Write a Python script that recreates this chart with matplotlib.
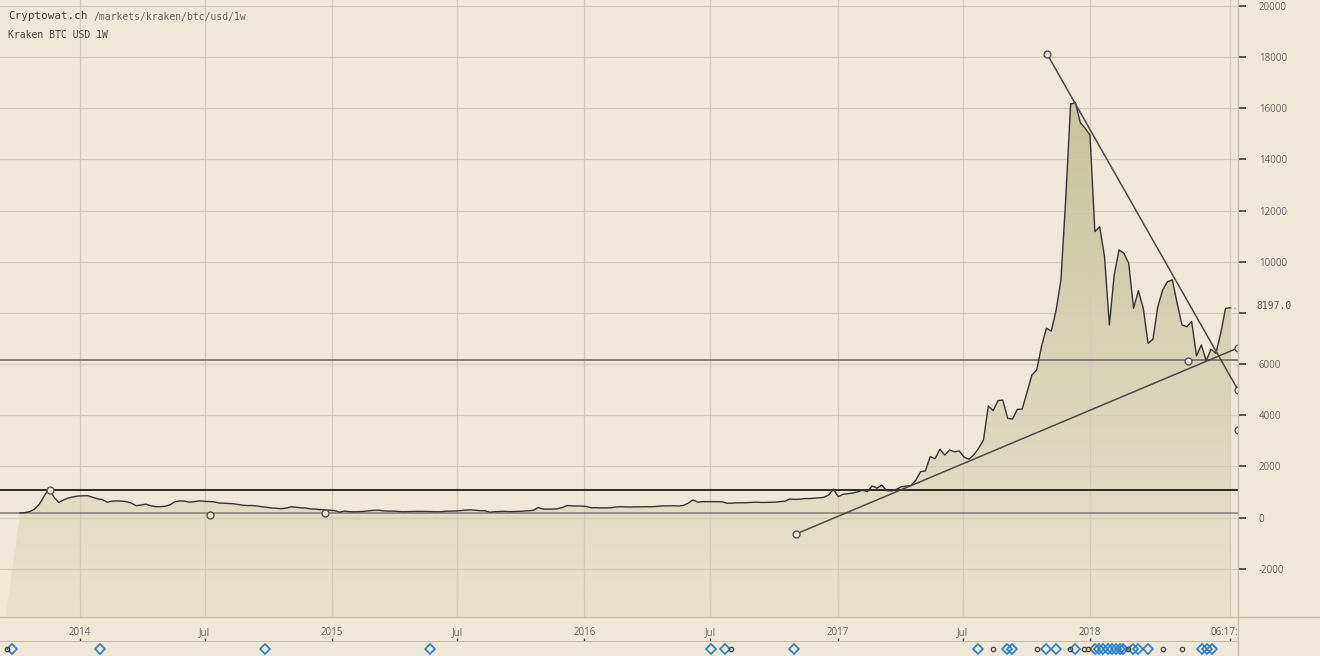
import numpy as np
import pandas as pd
import matplotlib
matplotlib.use("Agg")
import matplotlib.pyplot as plt
import matplotlib.dates as mdates
from matplotlib.colors import LinearSegmentedColormap
from matplotlib.patches import Polygon
from matplotlib.lines import Line2D
from matplotlib.transforms import Bbox, TransformedBbox

# weekly prices (USD), week starting monday
first_week = "2013-10-07"
close_2013 = [180, 190, 230, 330, 520, 850, 1130, 800, 590, 690, 760, 810, 840]
close_2014 = [850, 850, 790, 730, 700, 600, 640, 650, 640, 620, 560, 460, 490,
              520, 460, 425, 425, 440, 500, 620, 650, 640, 600, 620, 650, 635,
              625, 615, 570, 560, 550, 540, 510, 480, 465, 470, 450, 420, 400,
              370, 360, 345, 370, 420, 400, 380, 370, 335, 330, 310, 300, 280]
close_2015 = [270, 210, 250, 230, 225, 230, 240, 260, 280, 290, 260, 250, 250,
              240, 225, 230, 235, 240, 240, 237, 232, 225, 230, 245, 250, 255,
              270, 290, 300, 285, 265, 265, 210, 225, 235, 240, 230, 235, 240,
              250, 265, 280, 390, 330, 330, 330, 340, 390, 470, 455, 450, 450]
close_2016 = [430, 380, 385, 375, 375, 380, 410, 420, 415, 410, 415, 415, 420,
              420, 425, 445, 455, 455, 460, 450, 470, 560, 690, 600, 620, 620,
              620, 620, 615, 560, 560, 575, 575, 580, 590, 600, 590, 590, 595,
              600, 620, 640, 720, 710, 715, 740, 740, 755, 770, 790, 880, 1110]
close_2017 = [815, 910, 930, 960, 1000, 1070, 1010, 1230, 1150, 1270, 1050, 1040,
              1100, 1200, 1230, 1250, 1450, 1790, 1820, 2380, 2300, 2670, 2440,
              2640, 2570, 2600, 2360, 2280, 2450, 2710, 3030, 4360, 4180, 4570,
              4590, 3880, 3850, 4230, 4240, 4900, 5570, 5770, 6700, 7400, 7290,
              8100, 9300, 12500, 16170, 16220, 15440, 15220]
close_2018 = [14950, 11180, 11370, 10200, 7530, 9480, 10460, 10330, 9940, 8180,
              8870, 8180, 6810, 6970, 8240, 8890, 9220, 9290, 8380, 7530, 7460,
              7660, 6320, 6750, 6130, 6580, 6420, 7200, 8180, 8197]

# drawn trend lines and horizontal levels
trend_down_dates = ["2017-10-31", "2018-08-03"]
trend_down_vals = [18120, 4990]
trend_up_dates = ["2016-11-02", "2018-08-03"]
trend_up_vals = [-645, 6630]
level_vals = [1075, 188, 6140]
level_colors = ["#1a1a1a", "#8c8a80", "#77756d"]
anchor_dates = ["2013-11-19", "2014-07-09", "2014-12-22", "2018-05-22", "2018-08-03"]
anchor_vals = [1075, 86, 176, 6120, 3420]

# event markers in the bottom strip
blue_events = ["2013-09-25", "2014-01-30", "2014-09-26", "2015-05-23", "2016-07-02",
               "2016-07-22", "2016-10-30", "2017-07-23", "2017-09-03", "2017-09-10",
               "2017-10-29", "2017-11-13", "2017-12-10", "2018-01-08", "2018-01-14",
               "2018-01-20", "2018-01-27", "2018-02-02", "2018-02-08", "2018-02-13",
               "2018-02-18", "2018-03-04", "2018-03-11", "2018-03-26", "2018-06-12",
               "2018-06-19", "2018-06-26"]
dark_events = ["2013-09-18", "2016-07-31", "2017-08-14", "2017-10-16", "2017-12-03",
               "2017-12-23", "2017-12-29", "2018-02-25", "2018-04-17", "2018-05-14"]

tick_dates = ["2014-01-01", "2014-07-01", "2015-01-01", "2015-07-01", "2016-01-01",
              "2016-07-01", "2017-01-01", "2017-07-01", "2018-01-01", "2018-07-22"]
tick_labels = ["2014", "Jul", "2015", "Jul", "2016", "Jul", "2017", "Jul", "2018", "06:17:46"]
y_ticks = list(range(-2000, 20001, 2000))

BG = "#efe8d6"
GRID = "#d3cbb7"
SPINE = "#c6bea9"
W, H = 1320, 656

closes = close_2013 + close_2014 + close_2015 + close_2016 + close_2017 + close_2018
weeks = pd.date_range(first_week, periods=len(closes), freq="7D")
xs = mdates.date2num(weeks)

plt.rcParams["font.family"] = ["Open Sans", "DejaVu Sans"]

fig = plt.figure(figsize=(W / 100, H / 100), dpi=100, facecolor=BG)
ax = fig.add_axes([0, 39 / H, 1238 / W, 617 / H])
ax.set_facecolor(BG)

xmin = mdates.date2num(pd.Timestamp("2013-09-08"))
xmax = mdates.date2num(pd.Timestamp("2018-08-03"))
ymin, ymax = -3890, 20234

# gradient fill under the price line
cmap = LinearSegmentedColormap.from_list("fill", ["#e8e2cc", "#c0be94"])
grad = np.linspace(0, 1, 256).reshape(-1, 1)
im = ax.imshow(grad, cmap=cmap, extent=[xmin, xmax, ymin, ymax], origin="lower",
               aspect="auto", zorder=1)
verts = [(xs[0] - 21, ymin)] + list(zip(xs, closes)) + [(xs[-1], ymin)]
poly = Polygon(verts, closed=True, facecolor="none", edgecolor="none")
ax.add_patch(poly)
im.set_clip_path(poly)

ax.plot(xs, closes, color="#333333", lw=1.0, zorder=4)
ax.plot([xs[-1], xmax], [closes[-1], closes[-1]], ls=":", color="#a09c90", lw=1, zorder=4)

for v, c in zip(level_vals, level_colors):
    ax.axhline(v, color=c, lw=1.3, zorder=3)

for d, v in [(trend_down_dates, trend_down_vals), (trend_up_dates, trend_up_vals)]:
    ax.plot(pd.to_datetime(d), v, color="#4a4a48", lw=1.1, marker="o", ms=5,
            mfc=BG, mec="#555555", mew=1, zorder=5)
ax.plot(pd.to_datetime(anchor_dates), anchor_vals, ls="none", marker="o", ms=5,
        mfc=BG, mec="#555555", mew=1, zorder=6)

ax.set_xlim(xmin, xmax)
ax.set_ylim(ymin, ymax)
ax.set_axisbelow(False)
ax.grid(True, color=GRID, lw=0.9)

ax.set_xticks(mdates.date2num(pd.to_datetime(tick_dates)))
ax.set_xticklabels(tick_labels)
ax.set_yticks(y_ticks)
ax.set_yticklabels(["" if t == 8000 else str(t) for t in y_ticks])
ax.yaxis.tick_right()
ax.tick_params(axis="y", direction="out", length=6, width=1.2, color="#3a3a3a",
               pad=9, labelsize=7, labelcolor="#666666")
ax.tick_params(axis="x", length=0, pad=7, labelsize=7, labelcolor="#666666")
for s in ["left", "top"]:
    ax.spines[s].set_visible(False)
for s in ["right", "bottom"]:
    ax.spines[s].set_color(SPINE)

# last tick label is cut at the right edge of the plot
clip = TransformedBbox(Bbox([[0, 0], [1238 / W, 1]]), fig.transFigure)
last_lab = ax.get_xticklabels()[-1]
last_lab.set_clip_box(clip)
last_lab.set_clip_on(True)

ax.annotate(f"{closes[-1]:.1f}", xy=(1, closes[-1]), xycoords=("axes fraction", "data"),
            xytext=(13, 1), textcoords="offset points", ha="left", va="center",
            family="DejaVu Sans Mono", fontsize=7, color="#555555")

# event strip
ax2 = fig.add_axes([0, 0, 1238 / W, 15 / H], facecolor=BG)
ax2.set_xlim(xmin, xmax)
ax2.set_ylim(0, 1)
ax2.plot(pd.to_datetime(blue_events), [0.47] * len(blue_events), ls="none", marker="D",
         ms=5.4, mfc="none", mec="#2a7fd0", mew=1.2, clip_on=False)
ax2.plot(pd.to_datetime(dark_events), [0.47] * len(dark_events), ls="none", marker="o",
         ms=3.2, mfc="none", mec="#444444", mew=0.9, clip_on=False)
ax2.set_xticks(mdates.date2num(pd.to_datetime(tick_dates)))
ax2.xaxis.tick_top()
ax2.tick_params(axis="x", direction="out", length=2, width=1, color="#444444",
                labeltop=False, labelbottom=False)
ax2.set_yticks([])
for s in ["left", "bottom"]:
    ax2.spines[s].set_visible(False)
for s in ["top", "right"]:
    ax2.spines[s].set_color(SPINE)

fig.add_artist(Line2D([0, 1], [39 / H, 39 / H], transform=fig.transFigure, color=SPINE, lw=1))
fig.add_artist(Line2D([1238 / W, 1238 / W], [0, 1], transform=fig.transFigure, color=SPINE, lw=1))

fig.text(8 / W, 1 - 16 / H, "Cryptowat.ch", family="DejaVu Sans Mono", fontsize=7.9,
         color="#444444", va="center")
fig.text(94 / W, 1 - 17 / H, "/markets/kraken/btc/usd/1w", family="DejaVu Sans Mono",
         fontsize=7, color="#666666", va="center")
fig.text(8 / W, 1 - 35 / H, "Kraken BTC USD 1W", family="DejaVu Sans Mono", fontsize=7,
         color="#444444", va="center")

fig.savefig("out.png", dpi=100, facecolor=BG)
